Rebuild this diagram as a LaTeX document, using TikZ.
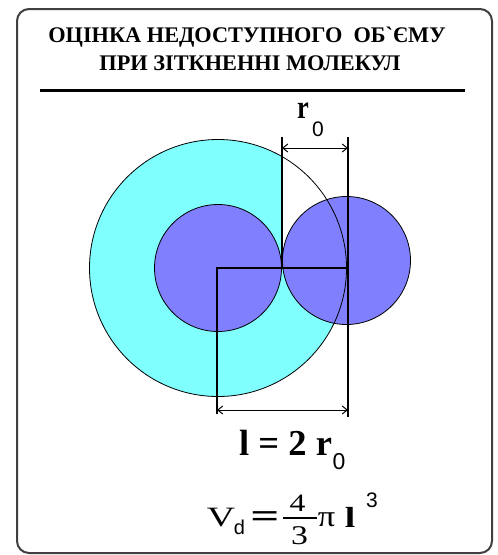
\documentclass[tikz,border=0pt]{standalone}
\usepackage{fontspec}
\setmainfont{Liberation Serif}
\newfontfamily\sfarial{Liberation Sans}
\newfontfamily\titlefont{Liberation Serif}[Ligatures=ResetAll]
\usetikzlibrary{arrows.meta}
\definecolor{cyanfill}{RGB}{128,255,255}
\definecolor{molfill}{RGB}{128,128,255}
\definecolor{framecol}{RGB}{64,64,64}
\newcommand{\fsz}[1]{\fontsize{#1}{#1}\selectfont}
\begin{document}
\begin{tikzpicture}[x=1pt,y=-1pt,
  titletext/.style={anchor=base, inner sep=0pt, font=\titlefont\bfseries\fsz{22.3}},
  txt/.style={anchor=base west, inner sep=0pt},
  glyph/.style={anchor=center, inner sep=0pt},
  mol/.style={fill=molfill, draw=black, line width=0.8pt},
  dimline/.style={line width=1.2pt},
  dimarrow/.style={line width=1pt, {Straight Barb[length=5pt,width=8pt]}-{Straight Barb[length=5pt,width=8pt]}}
]
\useasboundingbox (0,0) rectangle (498,555);
\fill[white] (0,0) rectangle (498,555);
% frame
\draw[line width=2pt, draw=framecol, rounded corners=12pt] (17,9) rectangle (492,553);
% title
\node[titletext] (t1) at (247,42.5) {ОЦІНКА НЕДОСТУПНОГО\ \ ОБ`ЄМУ};
\node[titletext] (t2) at (250,70.5) {ПРИ ЗІТКНЕННІ МОЛЕКУЛ};
\coordinate (ruleL) at (40,90);
\coordinate (ruleR) at (465,90);
\draw[line width=3pt] (ruleL) -- (ruleR);
% molecules
\coordinate (O) at (218,268);
\coordinate (O2) at (346.5,260.5);
\fill[cyanfill] (O) circle[radius=128.5pt];
\fill[white] (282,130) rectangle (350,268);
\draw[mol] (O) circle[radius=63.5pt];
\draw[mol] (O2) circle[radius=64pt];
\draw[line width=0.8pt] (O) circle[radius=128.5pt];
% construction lines
\coordinate (A1) at (282,137);
\coordinate (A2) at (282,268);
\coordinate (B1) at (348,137);
\coordinate (B2) at (348,268);
\coordinate (B3) at (348,417);
\coordinate (C1) at (217,268);
\coordinate (C2) at (217,414);
\draw[dimline] (A1) -- (A2);
\draw[dimline] (B1) -- (B3);
\draw[dimline] (C2) -- (C1) -- (B2);
\coordinate (D1) at (282,148);
\coordinate (D2) at (348,148);
\coordinate (E1) at (217,410);
\coordinate (E2) at (348,410);
\draw[dimarrow] (D1) -- (D2);
\draw[dimarrow] (E1) -- (E2);
% r0 label
\node[glyph, font=\bfseries\fsz{33}] (r) at (303,111) {\scalebox{0.8}[1]{r}};
\node[glyph, font=\sfarial\fsz{21}] (r0) at (318,129.5) {0};
% l = 2 r0
\node[txt, font=\bfseries\fsz{36.5}] (f1) at (239,455) {l = 2 r};
\node[glyph, font=\sfarial\fsz{23}] (f1s) at (339,461.5) {0};
% V_d = 4/3 pi l^3
\node[glyph, font=\fsz{28}] (V) at (221,517.5) {\scalebox{1.4}[1]{V}};
\node[glyph, font=\sfarial\fsz{20}] (Vd) at (239.5,527.5) {d};
\node[glyph, font=\bfseries\fsz{34}] (eq) at (265,520) {\scalebox{1.5}[1]{=}};
\node[glyph, font=\fsz{25}] (num) at (297.5,503.5) {\scalebox{1.27}[1]{4}};
\node[glyph, font=\fsz{27}] (den) at (299.5,535.5) {\scalebox{1.25}[1]{3}};
\coordinate (barL) at (283,518);
\coordinate (barR) at (317,518);
\draw[line width=1.8pt] (barL) -- (barR);
\node[glyph, font=\fsz{30}] (pi) at (326.5,520) {\scalebox{1.15}[1]{π}};
\node[glyph, font=\bfseries\fsz{29}] (l) at (350,517.5) {\scalebox{1.3}[1]{l}};
\node[glyph, font=\sfarial\fsz{21}] (cube) at (372,500.5) {3};
\end{tikzpicture}
\end{document}
